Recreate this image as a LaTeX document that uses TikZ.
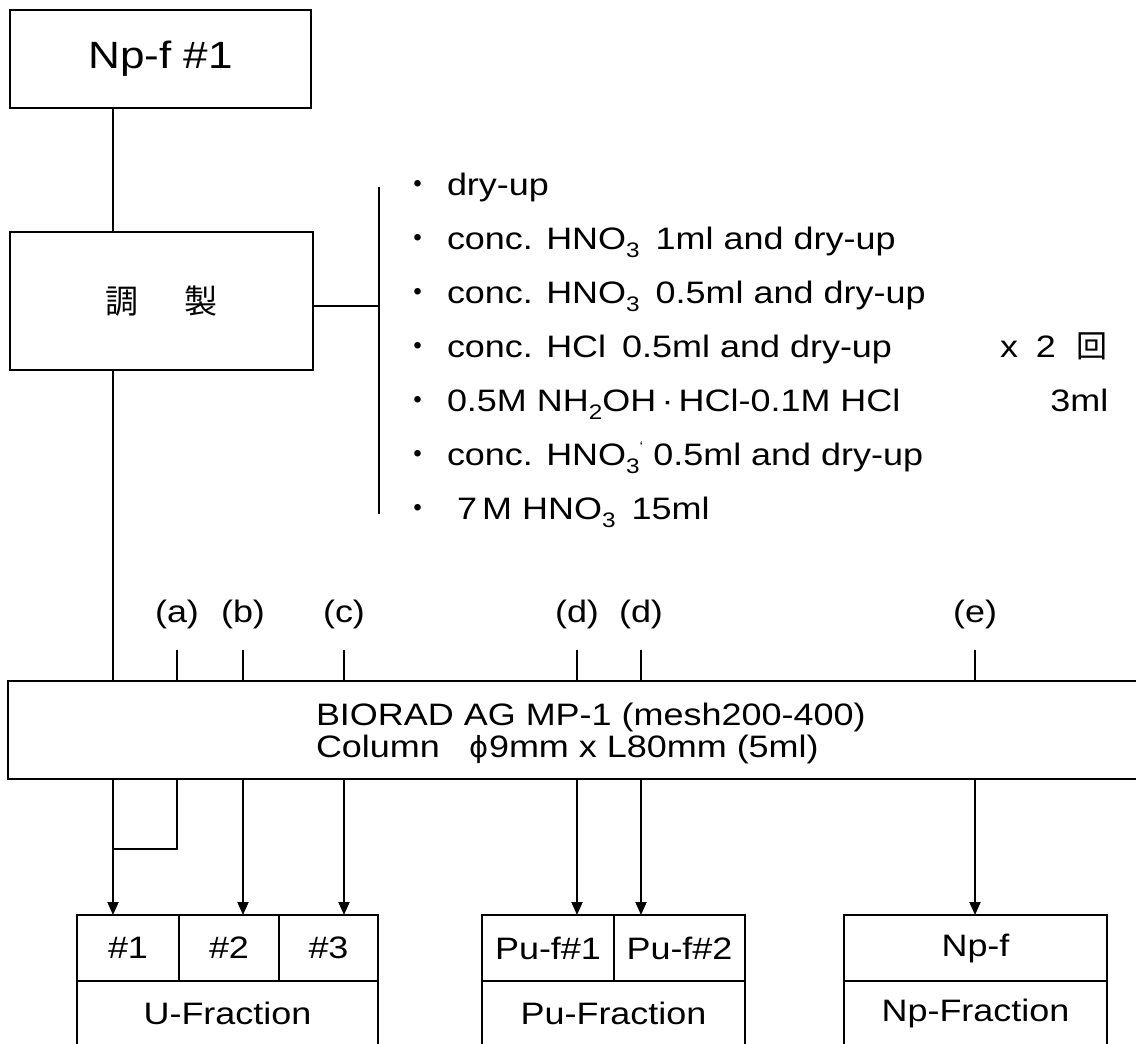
\documentclass[tikz,border=0pt]{standalone}
\usepackage{fontspec}
\setmainfont{Liberation Sans}[FakeStretch=1.16]
\newfontfamily\cjk{Noto Sans CJK JP}
\newfontfamily\dvs{DejaVu Sans}
\usetikzlibrary{arrows.meta}
\newcommand{\mysub}[1]{\raisebox{-0.28em}{\fontsize{21}{21}\selectfont #1}}
\newcommand{\bul}{{\cjk ・}\hspace{14pt}}
\begin{document}
\begin{tikzpicture}[x=1pt,y=-1pt,
  every node/.style={font=\fontsize{31}{32}\selectfont, inner sep=0pt, outer sep=0pt},
  box/.style={draw, line width=1.9pt},
  ln/.style={line width=1.9pt},
  arr/.style={ln, -{Triangle[length=13pt,width=11pt]}},
  cell/.style={box, anchor=north west, minimum height=66pt},
  lower/.style={anchor=north west, minimum height=64pt},
  item/.style={anchor=base west},
  lab/.style={anchor=center}
]
\useasboundingbox (0,0) rectangle (1136,1044);

% top boxes
\node[box, anchor=north west, minimum width=301pt, minimum height=98pt] (top) at (10,10)
  {\fontsize{38}{40}\selectfont Np-f \#1};
\node[box, anchor=north west, minimum width=303pt, minimum height=138pt] (prep) at (10,232)
  {\cjk\fontsize{33}{34}\selectfont 調\hspace{46pt}製};

% trunk
\coordinate (tr) at (113,0);
% bracket
\coordinate (brtop) at (379,187);
\coordinate (brbot) at (379,514);
\coordinate (brmid) at (379,306);
\draw[ln] (brtop) -- (brbot);
\draw[ln] (prep.east |- brmid) -- (brmid);

% list
\node[item] (l1) at (402,195) {\bul dry-up};
\node[item] (l2) at (402,249) {\bul conc. HNO\mysub{3}\hspace{16pt}1ml and dry-up};
\node[item] (l3) at (402,303) {\bul conc. HNO\mysub{3}\hspace{16pt}0.5ml and dry-up};
\node[item] (l4) at (402,357) {\bul conc. HCl\hspace{16pt}0.5ml and dry-up\hspace{108pt}x\hspace{18pt}2\hspace{20pt}{\cjk 回}};
\node[item] (l5) at (402,411) {\bul 0.5M NH\mysub{2}OH\,·\,HCl-0.1M HCl\hspace{150pt}3ml};
\node[item] (l6) at (402,465) {\bul conc. HNO\mysub{3}\raisebox{0.45em}{\fontsize{14}{14}\selectfont `}\hspace{10pt}0.5ml and dry-up};
\node[item] (l7) at (402,519) {\bul\hspace{10pt}7\,M HNO\mysub{3}\hspace{16pt}15ml};

% column
\node[box, anchor=north west, minimum width=1140pt, minimum height=98pt] (col) at (8,681) {};
\node[anchor=base west] (ct1) at (316,725) {BIORAD AG MP-1 (mesh200-400)};
\node[anchor=base west] (ct2) at (316,757) {Column\hspace{30pt}{\dvs\fontsize{29}{30}\selectfont ϕ}9mm x L80mm (5ml)};

\draw[ln] (top.south -| tr) -- (prep.north -| tr);
\draw[ln] (prep.south -| tr) -- (col.north -| tr);

% ticks and labels
\coordinate (ta) at (177,650);
\coordinate (tb) at (243,650);
\coordinate (tc) at (344,650);
\coordinate (td) at (577,650);
\coordinate (te) at (641,650);
\coordinate (tf) at (975,650);
\foreach \c/\t in {ta/a,tb/b,tc/c,td/d,te/d,tf/e}{
  \node[lab] (lab\c) at ([yshift=36pt]\c) {(\t)};
  \draw[ln] (\c) -- (\c |- col.north);
}

% bottom boxes
\node[cell, minimum width=102pt] (c1) at (77,915) {\#1};
\node[cell, minimum width=100pt] (c2) at (179,915) {\#2};
\node[cell, minimum width=99pt] (c3) at (279,915) {\#3};
\node[lower, minimum width=301pt] (ufr) at (77,981) {U-Fraction};
\draw[ln] (ufr.north west) -- ++(0,80);
\draw[ln] (ufr.north east) -- ++(0,80);

\node[cell, minimum width=132pt] (p1) at (482,915) {Pu-f\#1};
\node[cell, minimum width=131pt] (p2) at (614,915) {Pu-f\#2};
\node[lower, minimum width=263pt] (pfr) at (482,981) {Pu-Fraction};
\draw[ln] (pfr.north west) -- ++(0,80);
\draw[ln] (pfr.north east) -- ++(0,80);

\node[cell, minimum width=263pt] (n1) at (844,915) {Np-f};
\node[lower, minimum width=263pt] (nfr) at (844,981) {Np-Fraction};
\draw[ln] (nfr.north west) -- ++(0,80);
\draw[ln] (nfr.north east) -- ++(0,80);

% connectors below column
\coordinate (join) at (113,849);
\draw[arr] (col.south -| tr) -- (c1.north -| tr);
\draw[ln] (col.south -| ta) |- (join);
\draw[arr] (col.south -| tb) -- (c2.north -| tb);
\draw[arr] (col.south -| tc) -- (c3.north -| tc);
\draw[arr] (col.south -| td) -- (p1.north -| td);
\draw[arr] (col.south -| te) -- (p2.north -| te);
\draw[arr] (col.south -| tf) -- (n1.north -| tf);
\end{tikzpicture}
\end{document}
